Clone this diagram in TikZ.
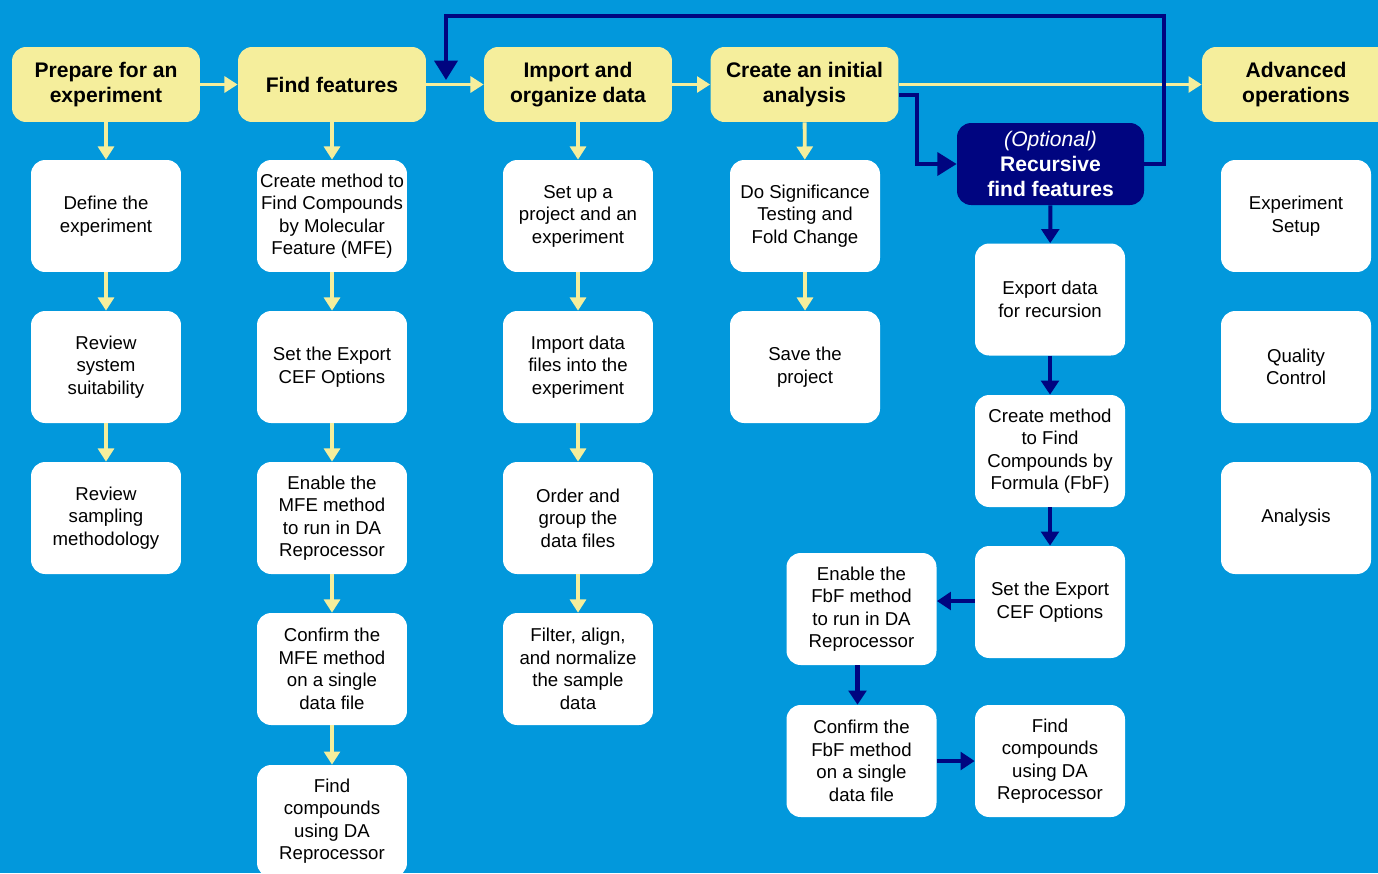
\documentclass[tikz,border=0pt]{standalone}
\usepackage{fontspec}
\setmainfont{Liberation Sans}
\usetikzlibrary{arrows.meta}

\definecolor{bgblue}{RGB}{2,152,220}
\definecolor{stepyellow}{RGB}{245,238,156}
\definecolor{darknavy}{RGB}{0,5,128}

\begin{document}
\begin{tikzpicture}[x=0.02cm,y=-0.02cm,
	phase/.style={fill=stepyellow, rounded corners=8pt, minimum width=3.76cm, minimum height=1.5cm,
		align=center, font=\fontsize{12}{14.2}\selectfont\bfseries},
	task/.style={fill=white, rounded corners=8pt, minimum width=3.0cm, minimum height=2.24cm,
		inner xsep=1pt, align=center, font=\fontsize{10.6}{12.8}\selectfont},
	optbox/.style={fill=darknavy, text=white, rounded corners=8pt, minimum width=3.74cm, minimum height=1.64cm,
		align=center, font=\fontsize{12}{14.2}\selectfont},
	yarrow/.style={draw=stepyellow, line width=2.2pt, -{Triangle[width=9pt,length=7.5pt]}},
	barrow/.style={draw=darknavy, line width=2.3pt, -{Triangle[width=10pt,length=8pt]}},
	bigbarrow/.style={draw=darknavy, line width=2.3pt, -{Triangle[width=13pt,length=11pt]}}]
	\useasboundingbox (0,0) rectangle (1378,873);
	\clip (0,0) rectangle (1378,873);
	\fill[bgblue] (0,0) rectangle (1378,873);
	
	% phases
	\node[phase] at (106,84.5) (prep) {Prepare for an\\experiment};
	\node[phase] at (332,84.5) (find) {Find features};
	\node[phase] at (578,84.5) (import) {Import and\\organize data};
	\node[phase] at (804.5,84.5) (create) {Create an initial\\analysis};
	\node[phase] at (1296,84.5) (adv) {Advanced\\operations};
	\node[optbox] at (1050.5,164) (opt) {\itshape (Optional)\\\bfseries Recursive\\\bfseries find features};
	
	% prepare column
	\node[task] at (106,216) (define) {Define the\\experiment};
	\node[task] at (106,367) (suit) {Review\\system\\suitability};
	\node[task] at (106,518) (sampling) {Review\\sampling\\methodology};
	
	% find features column
	\node[task] at (332,216) (mfe) {Create method to\\Find Compounds\\by Molecular\\Feature (MFE)};
	\node[task] at (332,367) (cef) {Set the Export\\CEF Options};
	\node[task] at (332,518) (enmfe) {Enable the\\MFE method\\to run in DA\\Reprocessor};
	\node[task] at (332,669) (confmfe) {Confirm the\\MFE method\\on a single\\data file};
	\node[task] at (332,821) (findmfe) {Find\\compounds\\using DA\\Reprocessor};
	
	% import column
	\node[task] at (578,216) (setup) {Set up a\\project and an\\experiment};
	\node[task] at (578,367) (files) {Import data\\files into the\\experiment};
	\node[task] at (578,518) (order) {Order and\\group the\\data files};
	\node[task] at (578,669) (filter) {Filter, align,\\and normalize\\the sample\\data};
	
	% analysis column
	\node[task] at (805,216) (signif) {Do Significance\\Testing and\\Fold Change};
	\node[task] at (805,367) (save) {Save the\\project};
	
	% recursion
	\node[task] at (1050,299.5) (export) {Export data\\for recursion};
	\node[task] at (1050,451) (fbf) {Create method\\to Find\\Compounds by\\Formula (FbF)};
	\node[task] at (1050,602) (cef2) {Set the Export\\CEF Options};
	\node[task] at (861.5,609) (enfbf) {Enable the\\FbF method\\to run in DA\\Reprocessor};
	\node[task] at (861.5,761) (conffbf) {Confirm the\\FbF method\\on a single\\data file};
	\node[task] at (1050,761) (findfbf) {Find\\compounds\\using DA\\Reprocessor};
	
	% advanced column
	\node[task] at (1296,216) (expset) {Experiment\\Setup};
	\node[task] at (1296,367) (qc) {Quality\\Control};
	\node[task] at (1296,518) (anal) {Analysis};
	
	% yellow flow
	\draw[yarrow] (prep) -- (find);
	\draw[yarrow] (find) -- (import);
	\draw[yarrow] (import) -- (create);
	\draw[yarrow] (create) -- (adv);
	\draw[yarrow] (prep) -- (define);
	\draw[yarrow] (define) -- (suit);
	\draw[yarrow] (suit) -- (sampling);
	\draw[yarrow] (find) -- (mfe);
	\draw[yarrow] (mfe) -- (cef);
	\draw[yarrow] (cef) -- (enmfe);
	\draw[yarrow] (enmfe) -- (confmfe);
	\draw[yarrow] (confmfe) -- (findmfe);
	\draw[yarrow] (import) -- (setup);
	\draw[yarrow] (setup) -- (files);
	\draw[yarrow] (files) -- (order);
	\draw[yarrow] (order) -- (filter);
	\draw[yarrow] (create) -- (signif);
	\draw[yarrow] (signif) -- (save);
	
	% blue flow
	\coordinate (c1) at (917,95);
	\coordinate (r1) at (1164,16);
	\coordinate (r2) at (446,80);
	\draw[bigbarrow] (create.east |- c1) -- (c1) |- (opt.west);
	\draw[bigbarrow] (opt.east) -| (r1) -| (r2);
	\draw[barrow] (opt) -- (export);
	\draw[barrow] (export) -- (fbf);
	\draw[barrow] (fbf) -- (cef2);
	\draw[barrow] ([yshift=0.02cm]cef2.west) -- ([yshift=0.02cm]cef2.west -| enfbf.east);
	\draw[barrow] ([xshift=-0.08cm]enfbf.south) -- ([xshift=-0.08cm]conffbf.north);
	\draw[barrow] (conffbf) -- (findfbf);
\end{tikzpicture}
\end{document}
